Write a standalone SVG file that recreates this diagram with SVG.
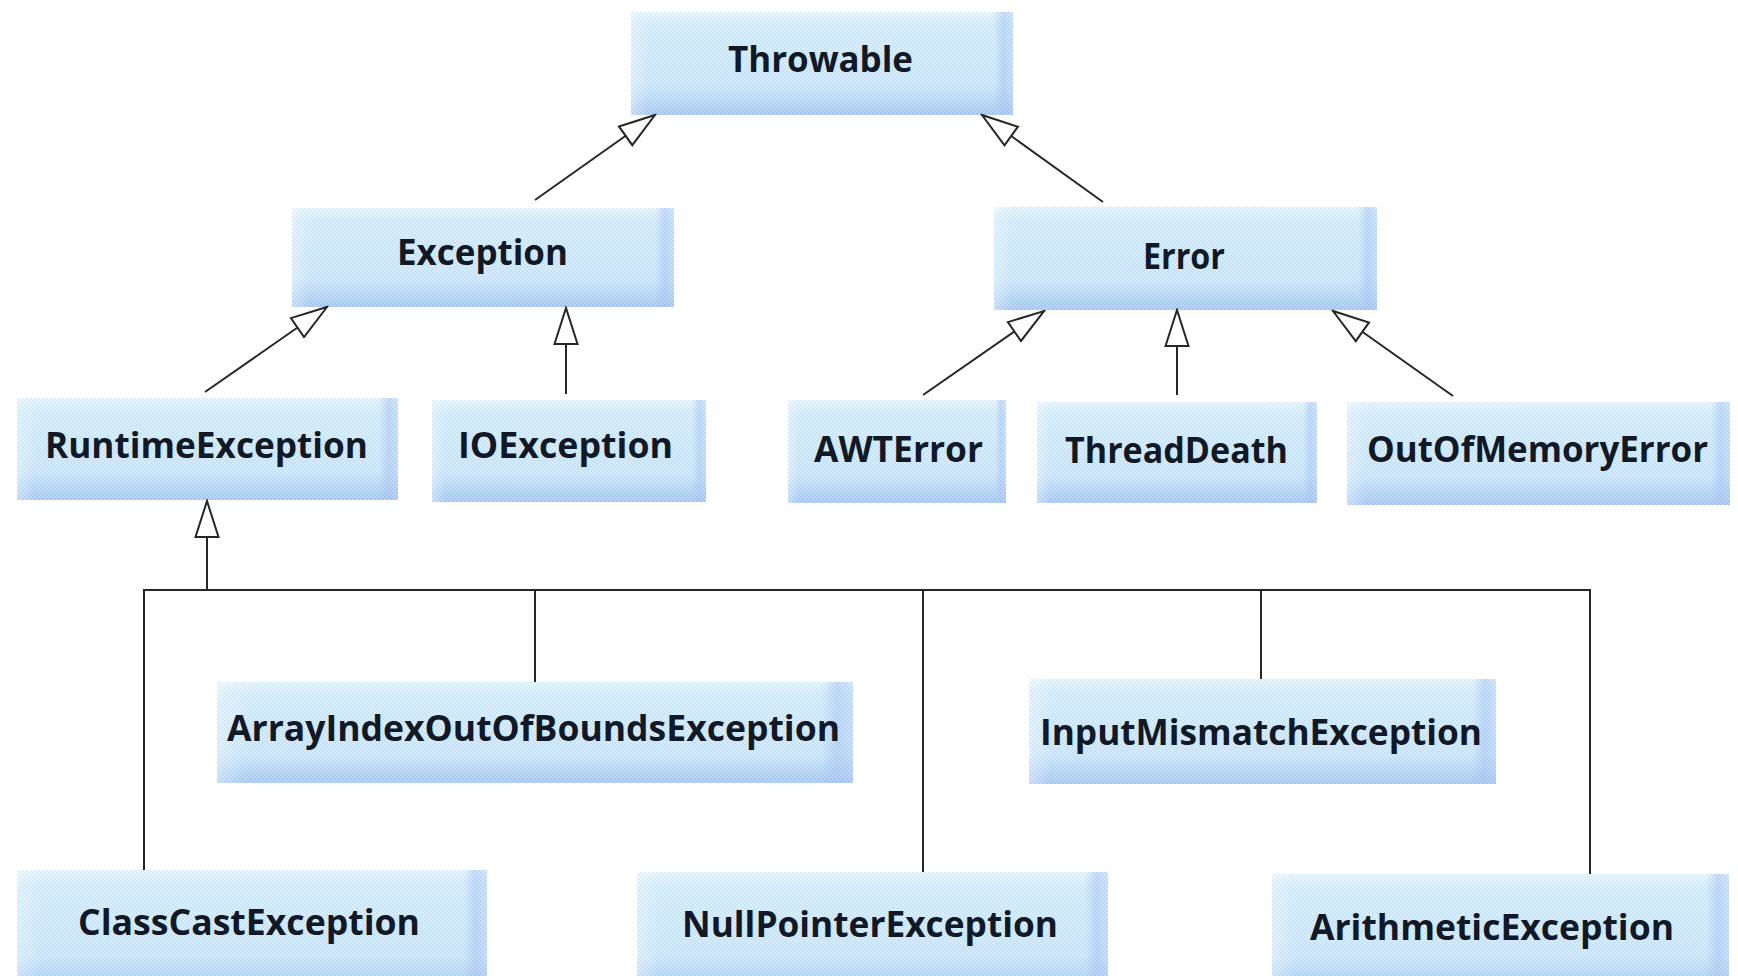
<svg xmlns="http://www.w3.org/2000/svg" width="1738" height="976" viewBox="0 0 1738 976">
<style>
  .b { fill: url(#gV); }
  .h { fill: url(#gH); }
  .t { fill: url(#tex); }
  .lbl { font-family: "Open Sans", "Lato", "Liberation Sans", sans-serif; font-weight: 700; font-size: 36px; fill: #111826; }
  .c { fill: none; stroke: #262626; stroke-width: 2; }
</style>
<defs>
  <linearGradient id="gV" x1="0" y1="0" x2="0" y2="1">
    <stop offset="0" stop-color="#e8f5fc"/>
    <stop offset="0.12" stop-color="#d6ecf9"/>
    <stop offset="0.72" stop-color="#cde5f7"/>
    <stop offset="0.86" stop-color="#bad6f3"/>
    <stop offset="1" stop-color="#a9c7ee"/>
  </linearGradient>
  <linearGradient id="gH" x1="0" y1="0" x2="1" y2="0">
    <stop offset="0" stop-color="#ffffff" stop-opacity="0.35"/>
    <stop offset="0.05" stop-color="#ffffff" stop-opacity="0"/>
    <stop offset="0.95" stop-color="#a6bfec" stop-opacity="0"/>
    <stop offset="0.975" stop-color="#a6bfec" stop-opacity="0.55"/>
    <stop offset="1" stop-color="#b2c9ef" stop-opacity="0.4"/>
  </linearGradient>
  <pattern id="tex" patternUnits="userSpaceOnUse" width="4" height="4">
    <path d="M0,4 L4,0" stroke="#ffffff" stroke-opacity="0.35" stroke-width="1"/>
    <path d="M0,0 L4,4" stroke="#7fa6d8" stroke-opacity="0.16" stroke-width="1"/>
  </pattern>
  <marker id="tri" markerUnits="userSpaceOnUse" viewBox="0 0 40 26" refX="38" refY="13" markerWidth="40" markerHeight="26" orient="auto">
    <path d="M2,1.5 L38,13 L2,24.5 Z" fill="#ffffff" stroke="#262626" stroke-width="2" stroke-linejoin="miter"/>
  </marker>
</defs>
<rect x="0" y="0" width="1738" height="976" fill="#ffffff"/>

<g id="n-throwable">
  <rect class="b" x="631" y="12" width="382" height="103"/><rect class="h" x="631" y="12" width="382" height="103"/><rect class="t" x="631" y="12" width="382" height="103"/>
  <text class="lbl" x="728" y="72" textLength="185" lengthAdjust="spacingAndGlyphs">Throwable</text>
</g>
<g id="n-exception">
  <rect class="b" x="292" y="208" width="382" height="99"/><rect class="h" x="292" y="208" width="382" height="99"/><rect class="t" x="292" y="208" width="382" height="99"/>
  <text class="lbl" x="397" y="265" textLength="171" lengthAdjust="spacingAndGlyphs">Exception</text>
</g>
<g id="n-error">
  <rect class="b" x="994" y="207" width="383" height="103"/><rect class="h" x="994" y="207" width="383" height="103"/><rect class="t" x="994" y="207" width="383" height="103"/>
  <text class="lbl" x="1143" y="269" textLength="82" lengthAdjust="spacingAndGlyphs">Error</text>
</g>
<g id="n-runtimeexception">
  <rect class="b" x="17" y="398" width="381" height="102"/><rect class="h" x="17" y="398" width="381" height="102"/><rect class="t" x="17" y="398" width="381" height="102"/>
  <text class="lbl" x="45" y="458" textLength="323" lengthAdjust="spacingAndGlyphs">RuntimeException</text>
</g>
<g id="n-ioexception">
  <rect class="b" x="432" y="400" width="274" height="102"/><rect class="h" x="432" y="400" width="274" height="102"/><rect class="t" x="432" y="400" width="274" height="102"/>
  <text class="lbl" x="458" y="458" textLength="215" lengthAdjust="spacingAndGlyphs">IOException</text>
</g>
<g id="n-awterror">
  <rect class="b" x="788" y="400" width="218" height="103"/><rect class="h" x="788" y="400" width="218" height="103"/><rect class="t" x="788" y="400" width="218" height="103"/>
  <text class="lbl" x="814" y="462" textLength="169" lengthAdjust="spacingAndGlyphs">AWTError</text>
</g>
<g id="n-threaddeath">
  <rect class="b" x="1037" y="402" width="280" height="101"/><rect class="h" x="1037" y="402" width="280" height="101"/><rect class="t" x="1037" y="402" width="280" height="101"/>
  <text class="lbl" x="1065" y="463" textLength="223" lengthAdjust="spacingAndGlyphs">ThreadDeath</text>
</g>
<g id="n-outofmemoryerror">
  <rect class="b" x="1347" y="402" width="383" height="103"/><rect class="h" x="1347" y="402" width="383" height="103"/><rect class="t" x="1347" y="402" width="383" height="103"/>
  <text class="lbl" x="1367" y="462" textLength="341" lengthAdjust="spacingAndGlyphs">OutOfMemoryError</text>
</g>
<g id="n-arrayindexoutofboundsexception">
  <rect class="b" x="217" y="682" width="636" height="101"/><rect class="h" x="217" y="682" width="636" height="101"/><rect class="t" x="217" y="682" width="636" height="101"/>
  <text class="lbl" x="227" y="741" textLength="613" lengthAdjust="spacingAndGlyphs">ArrayIndexOutOfBoundsException</text>
</g>
<g id="n-inputmismatchexception">
  <rect class="b" x="1029" y="679" width="467" height="105"/><rect class="h" x="1029" y="679" width="467" height="105"/><rect class="t" x="1029" y="679" width="467" height="105"/>
  <text class="lbl" x="1040" y="745" textLength="442" lengthAdjust="spacingAndGlyphs">InputMismatchException</text>
</g>
<g id="n-classcastexception">
  <rect class="b" x="17" y="870" width="470" height="120"/><rect class="h" x="17" y="870" width="470" height="120"/><rect class="t" x="17" y="870" width="470" height="120"/>
  <text class="lbl" x="78" y="935" textLength="342" lengthAdjust="spacingAndGlyphs">ClassCastException</text>
</g>
<g id="n-nullpointerexception">
  <rect class="b" x="637" y="872" width="471" height="118"/><rect class="h" x="637" y="872" width="471" height="118"/><rect class="t" x="637" y="872" width="471" height="118"/>
  <text class="lbl" x="682" y="937" textLength="376" lengthAdjust="spacingAndGlyphs">NullPointerException</text>
</g>
<g id="n-arithmeticexception">
  <rect class="b" x="1272" y="874" width="457" height="116"/><rect class="h" x="1272" y="874" width="457" height="116"/><rect class="t" x="1272" y="874" width="457" height="116"/>
  <text class="lbl" x="1310" y="940" textLength="364" lengthAdjust="spacingAndGlyphs">ArithmeticException</text>
</g>

<g id="connectors">
  <line class="c" x1="535" y1="200" x2="655" y2="115" marker-end="url(#tri)"/>
  <line class="c" x1="1103" y1="202" x2="982" y2="115" marker-end="url(#tri)"/>
  <line class="c" x1="205" y1="392" x2="327" y2="307" marker-end="url(#tri)"/>
  <line class="c" x1="566" y1="394" x2="566" y2="308" marker-end="url(#tri)"/>
  <line class="c" x1="923" y1="395" x2="1044" y2="311" marker-end="url(#tri)"/>
  <line class="c" x1="1177" y1="395" x2="1177" y2="310" marker-end="url(#tri)"/>
  <line class="c" x1="1453" y1="396" x2="1333" y2="311" marker-end="url(#tri)"/>
  <line class="c" x1="207" y1="590" x2="207" y2="501" marker-end="url(#tri)"/>
  <path class="c" d="M144,870 V590 H1590 V874"/>
  <path class="c" d="M535,590 V682"/>
  <path class="c" d="M923,590 V872"/>
  <path class="c" d="M1261,590 V679"/>
</g>
</svg>
